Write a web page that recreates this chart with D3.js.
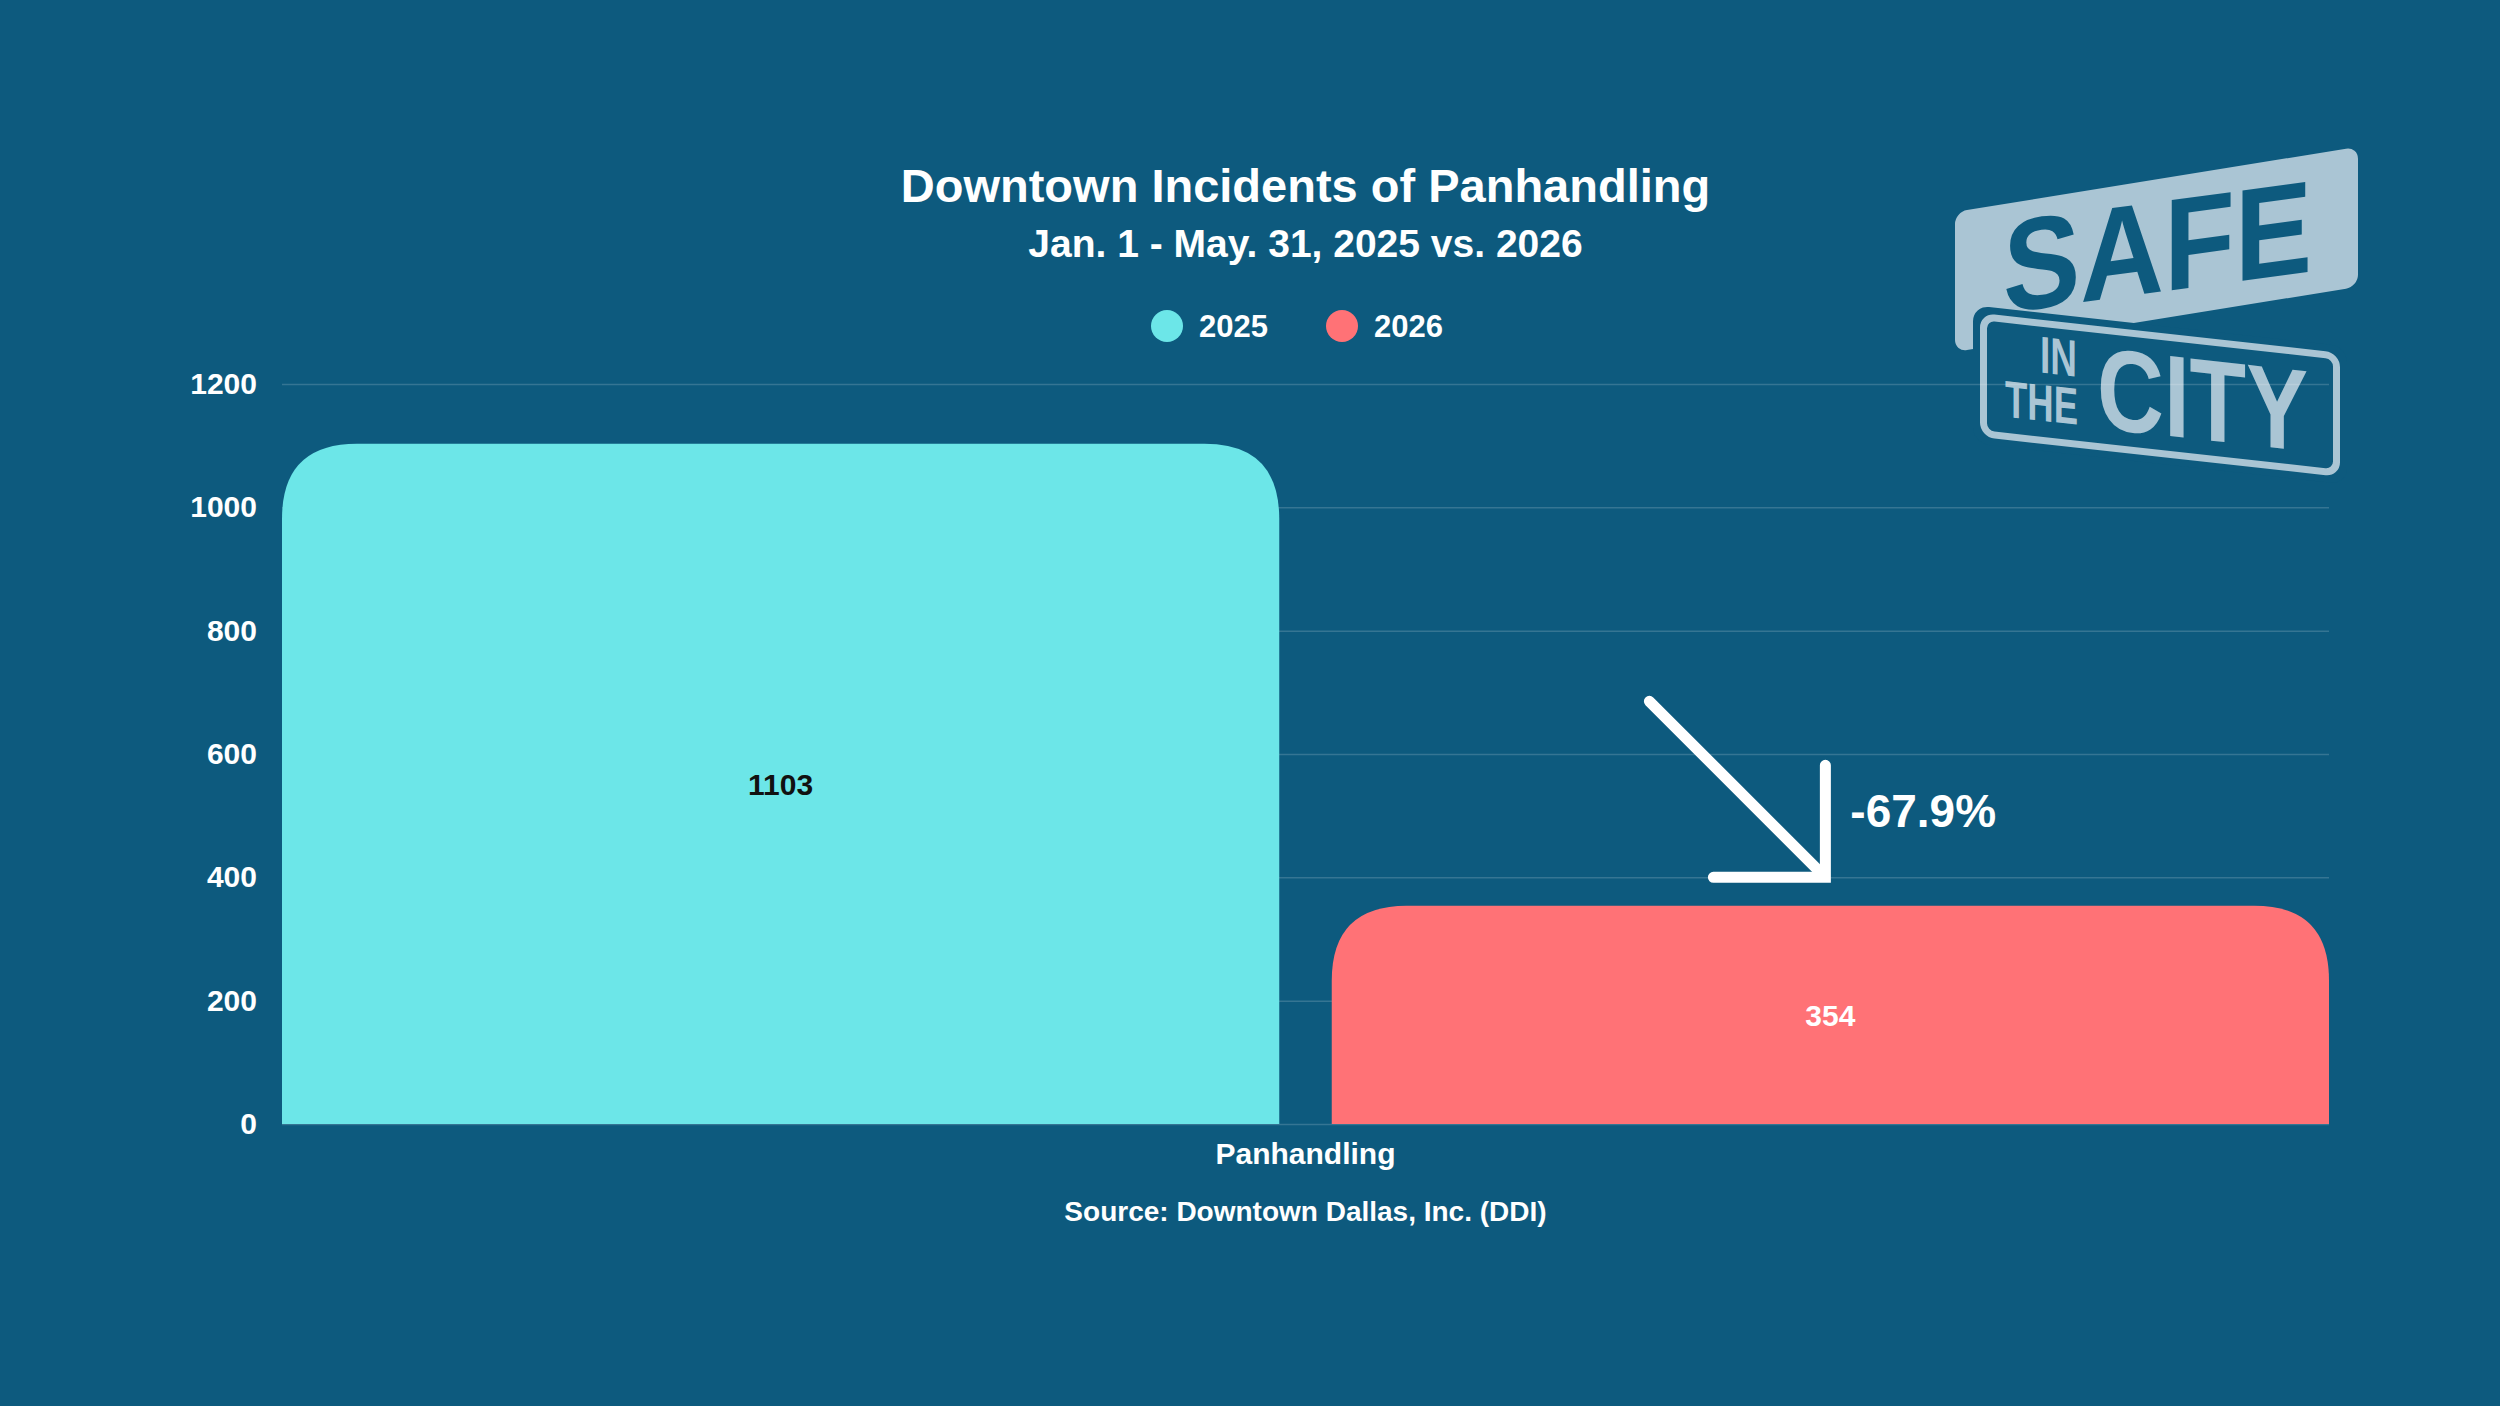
<!DOCTYPE html>
<html>
<head>
<meta charset="utf-8">
<script src="https://cdn.jsdelivr.net/npm/d3@7"></script>
<style>
  body { margin: 0; background: #0d5a7e; }
  text { font-family: "Liberation Sans", Arial, Helvetica, sans-serif; font-weight: bold; }
</style>
</head>
<body>
<div id="target"></div>
<script>
// chart data
const categories = ["Panhandling"]
const seriesNames = ["2025", "2026"]
const values2025 = [1103]
const values2026 = [354]
const yTicks = [0, 200, 400, 600, 800, 1000, 1200]
const changeLabel = "-67.9%"
const arrowLevel = 400

const titleText = "Downtown Incidents of Panhandling"
const subtitleText = "Jan. 1 - May. 31, 2025 vs. 2026"
const sourceText = "Source: Downtown Dallas, Inc. (DDI)"

const width = 2500
const height = 1406
const margin = { top: 384, right: 171, bottom: 282, left: 282 }
const bg = "#0d5a7e"
const light = "#aac5d4"
const colors = { "2025": "#6ce6e8", "2026": "#ff7276" }
const labelColors = { "2025": "#111111", "2026": "#ffffff" }

let svg = d3.select("#target").append("svg")
svg.attr("width", width).attr("height", height)
svg.append("rect").attr("width", width).attr("height", height).attr("fill", bg)

// ---- logo (top right) ----
let logo = svg.append("g")
let topSign = logo.append("g").attr("transform", "translate(1955,212) skewY(-9.2)")
topSign.append("rect").attr("width", 403).attr("height", 140).attr("rx", 12).attr("fill", light)
logo.append("g").attr("transform", "translate(2003,313) skewY(-7.7)")
    .append("text")
    .attr("x", 0).attr("y", 0)
    .attr("font-size", 131)
    .attr("textLength", 309).attr("lengthAdjust", "spacingAndGlyphs")
    .attr("fill", bg)
    .text("SAFE")
let botSign = logo.append("g").attr("transform", "translate(1980,313) skewY(6.3)")
botSign.append("rect").attr("x", -7).attr("y", -7).attr("width", 374).attr("height", 138).attr("rx", 16).attr("fill", bg)
botSign.append("rect").attr("x", 3.5).attr("y", 3.5).attr("width", 353).attr("height", 117).attr("rx", 11)
    .attr("fill", bg).attr("stroke", light).attr("stroke-width", 7)
let signWords = [
    { t: "IN", x: 60, y: 53, size: 52, len: 37 },
    { t: "THE", x: 25, y: 101, size: 52, len: 73 },
    { t: "CITY", x: 117, y: 102, size: 116, len: 211 }
]
botSign.selectAll("text.word").data(signWords).enter().append("text")
    .attr("class", "word")
    .attr("x", d => d.x).attr("y", d => d.y)
    .attr("font-size", d => d.size)
    .attr("textLength", d => d.len).attr("lengthAdjust", "spacingAndGlyphs")
    .attr("fill", light)
    .text(d => d.t)

// ---- scales ----
let plotW = width - margin.left - margin.right
let y = d3.scaleLinear().domain([0, 1200]).range([height - margin.bottom, margin.top])
let x0 = d3.scaleBand().domain(categories).range([margin.left, margin.left + plotW]).padding(0)
let x1 = d3.scaleBand().domain(seriesNames).range([0, x0.bandwidth()]).paddingInner(0.05)

// ---- grid + y labels ----
let yAxis = svg.append("g")
    .attr("transform", `translate(${margin.left},0)`)
    .call(d3.axisLeft(y).tickValues(yTicks).tickFormat(d3.format("d")).tickSize(-plotW).tickPadding(25))
yAxis.select(".domain").remove()
yAxis.selectAll(".tick line").attr("stroke", "#ffffff").attr("stroke-opacity", 0.17).attr("stroke-width", 1.5)
yAxis.selectAll(".tick text")
    .attr("fill", "#ffffff")
    .attr("font-size", 30)
    .attr("font-family", "Liberation Sans, Arial, sans-serif")
    .attr("font-weight", "bold")

// ---- bars ----
let rows = categories.map((c, i) => ({
    category: c,
    values: [
        { key: "2025", value: values2025[i] },
        { key: "2026", value: values2026[i] }
    ]
}))
let topRounded = (x, yTop, w, h, r) => {
    r = Math.min(r, w / 2, h)
    return `M${x},${yTop + h}L${x},${yTop + r}Q${x},${yTop} ${x + r},${yTop}` +
        `L${x + w - r},${yTop}Q${x + w},${yTop} ${x + w},${yTop + r}L${x + w},${yTop + h}Z`
}
let groups = svg.selectAll("g.cat").data(rows).enter().append("g")
    .attr("class", "cat")
    .attr("transform", d => `translate(${x0(d.category)},0)`)
groups.selectAll("path").data(d => d.values).enter().append("path")
    .attr("d", d => topRounded(x1(d.key), y(d.value), x1.bandwidth(), y(0) - y(d.value), 75))
    .attr("fill", d => colors[d.key])
groups.selectAll("text.val").data(d => d.values).enter().append("text")
    .attr("class", "val")
    .attr("x", d => x1(d.key) + x1.bandwidth() / 2)
    .attr("y", d => (y(d.value) + y(0)) / 2)
    .attr("dy", "0.36em")
    .attr("text-anchor", "middle")
    .attr("font-size", 30)
    .attr("fill", d => labelColors[d.key])
    .text(d => d.value)

// ---- x axis label ----
let xAxis = svg.append("g")
    .attr("transform", `translate(0,${y(0)})`)
    .call(d3.axisBottom(x0).tickSize(0).tickPadding(19))
xAxis.select(".domain").remove()
xAxis.selectAll(".tick text")
    .attr("fill", "#ffffff")
    .attr("font-size", 30)
    .attr("font-family", "Liberation Sans, Arial, sans-serif")
    .attr("font-weight", "bold")

// ---- change arrow ----
let tipX = x0(categories[0]) + x1("2026") + x1.bandwidth() / 2 - 5
let tipY = y(arrowLevel)
let arrow = svg.append("g").attr("stroke", "#ffffff").attr("stroke-width", 11).attr("fill", "none")
arrow.append("line")
    .attr("x1", tipX - 176).attr("y1", tipY - 176)
    .attr("x2", tipX - 3).attr("y2", tipY - 3)
    .attr("stroke-linecap", "round")
arrow.append("path")
    .attr("d", `M${tipX - 112},${tipY}L${tipX},${tipY}L${tipX},${tipY - 112}`)
    .attr("stroke-linecap", "round")
    .attr("stroke-linejoin", "miter")
svg.append("text")
    .attr("x", tipX + 25).attr("y", tipY - 50)
    .attr("font-size", 46)
    .attr("fill", "#ffffff")
    .text(changeLabel)

// ---- titles + legend + source ----
let cx = margin.left + plotW / 2
svg.append("text").attr("x", cx).attr("y", 202).attr("text-anchor", "middle")
    .attr("font-size", 47).attr("fill", "#ffffff").text(titleText)
svg.append("text").attr("x", cx).attr("y", 257).attr("text-anchor", "middle")
    .attr("font-size", 39).attr("fill", "#ffffff").text(subtitleText)

let legend = svg.append("g").attr("transform", "translate(1167,326)")
let items = legend.selectAll("g").data(seriesNames).enter().append("g")
    .attr("transform", (d, i) => `translate(${i * 175},0)`)
items.append("circle").attr("r", 16).attr("fill", d => colors[d])
items.append("text").attr("x", 32).attr("y", 11)
    .attr("font-size", 31).attr("fill", "#ffffff").text(d => d)

svg.append("text").attr("x", cx).attr("y", 1221).attr("text-anchor", "middle")
    .attr("font-size", 28).attr("fill", "#ffffff").text(sourceText)
</script>
</body>
</html>
